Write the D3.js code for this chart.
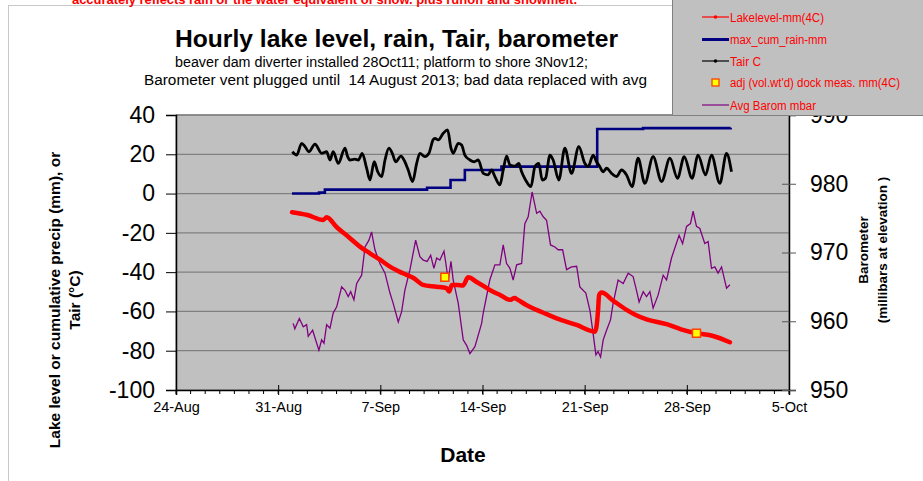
<!DOCTYPE html>
<html><head><meta charset="utf-8">
<script src="https://cdn.jsdelivr.net/npm/d3@7"></script>
<style>
body{margin:0;background:#fff;}
svg{display:block;font-family:"Liberation Sans",Arial,sans-serif;}
</style></head>
<body><svg id="c" width="923" height="481"></svg>
<script>
// ---- data (days are fractional September 2013 days: 1.0 = 1 Sep 00:00) ----
const xTickLabels = ["24-Aug","31-Aug","7-Sep","14-Sep","21-Sep","28-Sep","5-Oct"];
const yLeftTicks = [-100,-80,-60,-40,-20,0,20,40];
const yRightTicks = [950,960,970,980,990];

const lakeDays = [0.95,2.0,3.09,3.32,4.0,4.92,5.6,6.29,7.0,7.66,8.55,9.3,9.92,10.85,11.54,11.72,11.9,12.3,12.66,13.02,13.6,14.28,14.6,15.2,15.88,16.2,16.4,17.0,17.7,18.4,19.08,20.45,21.70,21.81,21.92,21.99,22.16,22.95,23.87,24.5,25.24,26.61,27.6,28.66,29.8,30.95];
const lakeMm = [-9.5,-10.9,-13.4,-12.1,-17,-22.7,-27,-30.4,-33.8,-37.2,-40.6,-43.1,-46.5,-47.4,-48.2,-49.9,-46.5,-46.6,-46.8,-42.6,-45,-48,-49.5,-51.6,-54.1,-53.2,-54,-56.7,-59.2,-61.4,-63.5,-66.9,-70.3,-67.7,-59.2,-51.6,-50.4,-54.5,-59.2,-61.8,-64,-66.5,-69.1,-71.1,-72.5,-75.7];

const rainDays = [0.95,2.8,3.2,10.2,11.81,12.79,15.3,21.86,25.0,31.0];
const rainMm = [0,0.5,2.0,3.0,6.9,12.0,13.7,32.9,33.3,33.5];

const tairDays = [0.97,1.27,1.61,1.84,2.11,2.52,2.98,3.32,3.55,3.77,4.12,4.58,4.76,4.92,5.26,5.49,5.76,6.06,6.29,6.58,6.82,7.09,7.32,7.59,7.82,8.05,8.41,8.68,8.91,9.21,9.49,9.71,10.05,10.33,10.62,10.74,10.97,11.31,11.61,11.84,11.99,12.34,12.57,12.79,13.14,13.43,13.71,14.05,14.39,14.62,14.85,15.19,15.42,15.65,15.88,16.22,16.49,16.68,16.95,17.32,17.59,17.86,18.09,18.32,18.62,18.84,19.23,19.64,20.10,20.60,21.01,21.24,21.58,21.81,22.04,22.27,22.50,22.84,23.18,23.53,23.87,24.25,24.66,25.12,25.69,26.27,26.84,27.36,27.82,28.36,28.77,29.28,29.69,30.26,30.72,31.06];
const tairC = [21.3,19.6,25.6,23.9,21.3,25.2,20.5,21.3,17.1,21.3,15.4,23.1,18.8,17.1,17.5,17.1,20.5,12.9,6.9,16.2,11.1,8.6,17.1,23.1,20.5,16.2,19.1,16.2,12.0,6.1,15.4,20.5,18.8,20.5,27.5,28.1,27.3,30.7,32.4,23.1,20.5,25.6,24.7,19.6,17.1,16.2,17.1,10.3,9.5,12.0,8.6,4.4,12.0,19.1,14.6,14.0,15.4,11.1,6.9,3.5,13.7,15.4,6.9,7.8,19.6,17.1,6.9,23.1,10.3,23.9,15.4,13.7,19.6,16.2,13.7,11.1,12.9,10.3,8.6,12.0,9.5,3.5,18.0,5.2,18.8,6.1,18.0,7.8,18.8,7.8,19.6,9.5,19.6,5.2,20.5,11.1];

const baroDays = [1.03,1.14,1.45,1.72,1.95,2.06,2.36,2.79,2.98,3.14,3.32,3.55,3.77,4.01,4.35,4.58,4.80,4.97,5.19,5.38,5.72,5.95,6.22,6.40,6.63,6.97,7.32,7.66,7.88,8.23,8.46,8.68,9.03,9.42,9.71,9.94,10.21,10.45,10.67,10.86,11.08,11.36,11.49,11.65,11.84,11.99,12.34,12.68,12.91,13.14,13.48,13.94,14.05,14.5,14.85,15.19,15.42,15.65,15.88,16.10,16.34,16.68,16.90,17.13,17.40,17.71,17.93,18.16,18.39,18.66,18.96,19.18,19.49,19.76,20.10,20.45,20.67,21.08,21.36,21.58,21.77,21.92,22.09,22.27,22.50,22.77,22.95,23.29,23.64,23.98,24.32,24.55,24.73,25.01,25.24,25.47,25.69,26.03,26.38,26.61,26.95,27.47,27.71,27.98,28.25,28.43,28.66,28.89,29.23,29.46,29.69,29.92,30.14,30.38,30.72,30.95];
const baroMbar = [959.7,958.9,960.4,959.2,959.5,957.8,958.7,955.8,957.3,956.8,959.5,959.0,961.2,962.1,965.0,964.5,963.6,964.3,963.1,965.5,966.7,970.8,971.8,973.0,970.4,968.4,967.0,964.1,962.6,959.9,961.4,964.5,967.5,971.8,969.4,968.9,968.7,969.6,967.7,969.2,968.9,970.2,968.4,966.0,968.7,966.0,962.6,957.3,956.5,955.3,956.3,959.7,961.2,966.0,968.2,968.2,971.1,968.4,967.7,966.0,968.2,968.4,974.2,975.2,978.8,975.7,976.0,975.2,974.7,971.1,970.8,970.4,970.4,967.5,967.9,968.0,965.0,964.1,961.6,958.2,955.1,955.6,954.8,957.3,958.7,960.2,962.6,966.0,965.5,967.0,966.5,964.5,962.8,964.3,963.6,964.3,961.9,963.8,966.7,966.0,969.2,972.5,971.3,973.8,974.2,976.0,973.8,973.5,971.3,971.6,967.7,967.9,967.0,967.9,964.8,965.3];

const dockDays = [11.42,28.66];
const dockMm = [-42.6,-71.1];

const legendLabels = ["Lakelevel-mm(4C)","max_cum_rain-mm","Tair C","adj (vol.wt'd) dock meas. mm(4C)","Avg Barom mbar"];

// ---- drawing ----
const svg = d3.select("#c");
const toDate = d => new Date(Date.UTC(2013,8,1) + (d-1)*864e5);
const L=176, R=789, T=115, B=390;
const x = d3.scaleUtc().domain([Date.UTC(2013,7,24), Date.UTC(2013,9,5)]).range([L,R]);
const yL = d3.scaleLinear().domain([-100,40]).range([B,T]);
const yR = d3.scaleLinear().domain([950,990]).range([B,T]);
const font = '"Liberation Sans",Arial,sans-serif';

// chart frame
svg.append("rect").attr("x",8.5).attr("y",5.5).attr("width",930).attr("height",490)
  .attr("fill","#fff").attr("stroke","#c8c8c8");
svg.append("text").attr("x",72).attr("y",4).attr("fill","#ff0000").attr("font-weight","bold")
  .attr("font-size",12).attr("textLength",505).attr("lengthAdjust","spacingAndGlyphs")
  .text("accurately reflects rain or the water equivalent of snow. plus runoff and snowmelt.");

// plot area
svg.append("rect").attr("x",L).attr("y",T).attr("width",R-L).attr("height",B-T)
  .attr("fill","#c0c0c0").attr("stroke","#808080");
svg.append("g").selectAll("line").data(yLeftTicks.filter(v=>v>-100)).join("line")
  .attr("x1",L).attr("x2",R).attr("y1",d=>yL(d)).attr("y2",d=>yL(d))
  .attr("stroke","#808080").attr("stroke-width",1.3);

// titles
svg.append("text").attr("x",396.5).attr("y",47).attr("text-anchor","middle").attr("font-weight","bold")
  .attr("font-size",23).attr("textLength",443).attr("lengthAdjust","spacingAndGlyphs")
  .text("Hourly lake level, rain, Tair, barometer");
svg.append("text").attr("x",381.5).attr("y",67).attr("text-anchor","middle").attr("font-size",14)
  .attr("textLength",413).attr("lengthAdjust","spacingAndGlyphs")
  .text("beaver dam diverter installed 28Oct11; platform to shore 3Nov12;");
svg.append("text").attr("x",395.5).attr("y",85).attr("text-anchor","middle").attr("font-size",14)
  .attr("textLength",503).attr("lengthAdjust","spacingAndGlyphs")
  .attr("xml:space","preserve").text("Barometer vent plugged until  14 August 2013; bad data replaced with avg");

// axes
const xMajor = xTickLabels.map((s,i)=>new Date(Date.UTC(2013,7,24+7*i)));
const gx = svg.append("g").attr("transform",`translate(0,${B})`)
  .call(d3.axisBottom(x).tickValues(xMajor).tickFormat((d,i)=>xTickLabels[i]).tickSize(5).tickPadding(7));
gx.selectAll("text").attr("font-size",14.5).attr("font-family",font).attr("fill","#000");
gx.selectAll(".tick line").attr("y1",-5);
gx.select(".domain").attr("stroke","#000").attr("stroke-width",1.5);
svg.append("g").selectAll("line").data(d3.utcDay.range(new Date(Date.UTC(2013,7,24)), new Date(Date.UTC(2013,9,6)))).join("line")
  .attr("x1",d=>x(d)).attr("x2",d=>x(d)).attr("y1",B).attr("y2",B+4).attr("stroke","#000");

const gyl = svg.append("g").attr("transform",`translate(${L},0)`)
  .call(d3.axisLeft(yL).tickValues(yLeftTicks).tickFormat(d=>String(d)).tickSize(10).tickPadding(11));
gyl.selectAll("text").attr("font-size",23).attr("font-family",font).attr("fill","#000");
gyl.select(".domain").attr("stroke","#000").attr("stroke-width",1.5);

const gyr = svg.append("g").attr("transform",`translate(${R},0)`)
  .call(d3.axisRight(yR).tickValues(yRightTicks).tickFormat(d=>String(d)).tickSize(7).tickPadding(14));
gyr.selectAll("text").attr("font-size",23).attr("font-family",font).attr("fill","#000");
gyr.selectAll(".tick line").attr("x1",-7).attr("stroke","#555");
gyr.select(".domain").attr("stroke","#000").attr("stroke-width",1.5);

// axis titles
const lt = svg.append("text").attr("transform","translate(60,300) rotate(-90)").attr("text-anchor","middle")
  .attr("font-weight","bold").attr("font-size",15.5);
lt.append("tspan").attr("x",0).attr("y",0).text("Lake level or cumulative precip (mm), or");
lt.append("tspan").attr("x",0).attr("y",20).text("Tair (°C)");
const rt = svg.append("text").attr("transform","translate(868,250) rotate(-90)").attr("text-anchor","middle")
  .attr("font-weight","bold").attr("font-size",13.5);
rt.append("tspan").attr("x",0).attr("y",0).text("Barometer");
rt.append("tspan").attr("x",0).attr("y",19).text("(millibars at elevation )");
svg.append("text").attr("x",463).attr("y",462).attr("text-anchor","middle").attr("font-weight","bold")
  .attr("font-size",21).text("Date");

// series
const zip = (a,b)=>a.map((d,i)=>[d,b[i]]);
const baroLine = d3.line().x(d=>x(toDate(d[0]))).y(d=>yR(d[1]));
svg.append("path").datum(zip(baroDays,baroMbar)).attr("d",baroLine)
  .attr("fill","none").attr("stroke","#800080").attr("stroke-width",1.3);

const lineL = d3.line().x(d=>x(toDate(d[0]))).y(d=>yL(d[1]));
svg.append("path").datum(zip(rainDays,rainMm)).attr("d",lineL.curve(d3.curveStepAfter))
  .attr("fill","none").attr("stroke","#000080").attr("stroke-width",2.6);

const lineS = d3.line().x(d=>x(toDate(d[0]))).y(d=>yL(d[1])).curve(d3.curveMonotoneX);
svg.append("path").datum(zip(tairDays,tairC)).attr("d",lineS)
  .attr("fill","none").attr("stroke","#000").attr("stroke-width",2.8).attr("stroke-linejoin","round");

const lineLake = d3.line().x(d=>x(toDate(d[0]))).y(d=>yL(d[1])).curve(d3.curveMonotoneX);
svg.append("path").datum(zip(lakeDays,lakeMm)).attr("d",lineLake)
  .attr("fill","none").attr("stroke","#ff0000").attr("stroke-width",4.5).attr("stroke-linejoin","round").attr("stroke-linecap","round");

svg.append("g").selectAll("rect").data(zip(dockDays,dockMm)).join("rect")
  .attr("x",d=>x(toDate(d[0]))-4).attr("y",d=>yL(d[1])-4).attr("width",8).attr("height",8)
  .attr("fill","#ffff00").attr("stroke","#ff4000").attr("stroke-width",1.5);

// legend
const lg = svg.append("g");
lg.append("rect").attr("x",672.5).attr("y",-5).attr("width",260).attr("height",120.5)
  .attr("fill","#c0c0c0").attr("stroke","#808080");
const ly = [17,39.5,61,82.5,105];
const lw = [94,97,31,170,86];
lg.selectAll("text").data(legendLabels).join("text")
  .attr("x",730).attr("y",(d,i)=>ly[i]+4.5).attr("fill","#ff0000").attr("font-size",12.5)
  .attr("textLength",(d,i)=>lw[i]).attr("lengthAdjust","spacingAndGlyphs").text(d=>d);
lg.append("line").attr("x1",702).attr("x2",729).attr("y1",ly[0]).attr("y2",ly[0]).attr("stroke","#ff0000").attr("stroke-width",1.2);
lg.append("circle").attr("cx",715.5).attr("cy",ly[0]).attr("r",1.8).attr("fill","#ff0000");
lg.append("line").attr("x1",702).attr("x2",729).attr("y1",ly[1]).attr("y2",ly[1]).attr("stroke","#000080").attr("stroke-width",3);
lg.append("line").attr("x1",702).attr("x2",729).attr("y1",ly[2]).attr("y2",ly[2]).attr("stroke","#000").attr("stroke-width",1.2);
lg.append("circle").attr("cx",715.5).attr("cy",ly[2]).attr("r",1.8).attr("fill","#000");
lg.append("rect").attr("x",712).attr("y",ly[3]-3.5).attr("width",7).attr("height",7).attr("fill","#ffff00").attr("stroke","#ff4000").attr("stroke-width",1.3);
lg.append("line").attr("x1",702).attr("x2",729).attr("y1",ly[4]).attr("y2",ly[4]).attr("stroke","#800080").attr("stroke-width",1.2);
</script></body></html>
